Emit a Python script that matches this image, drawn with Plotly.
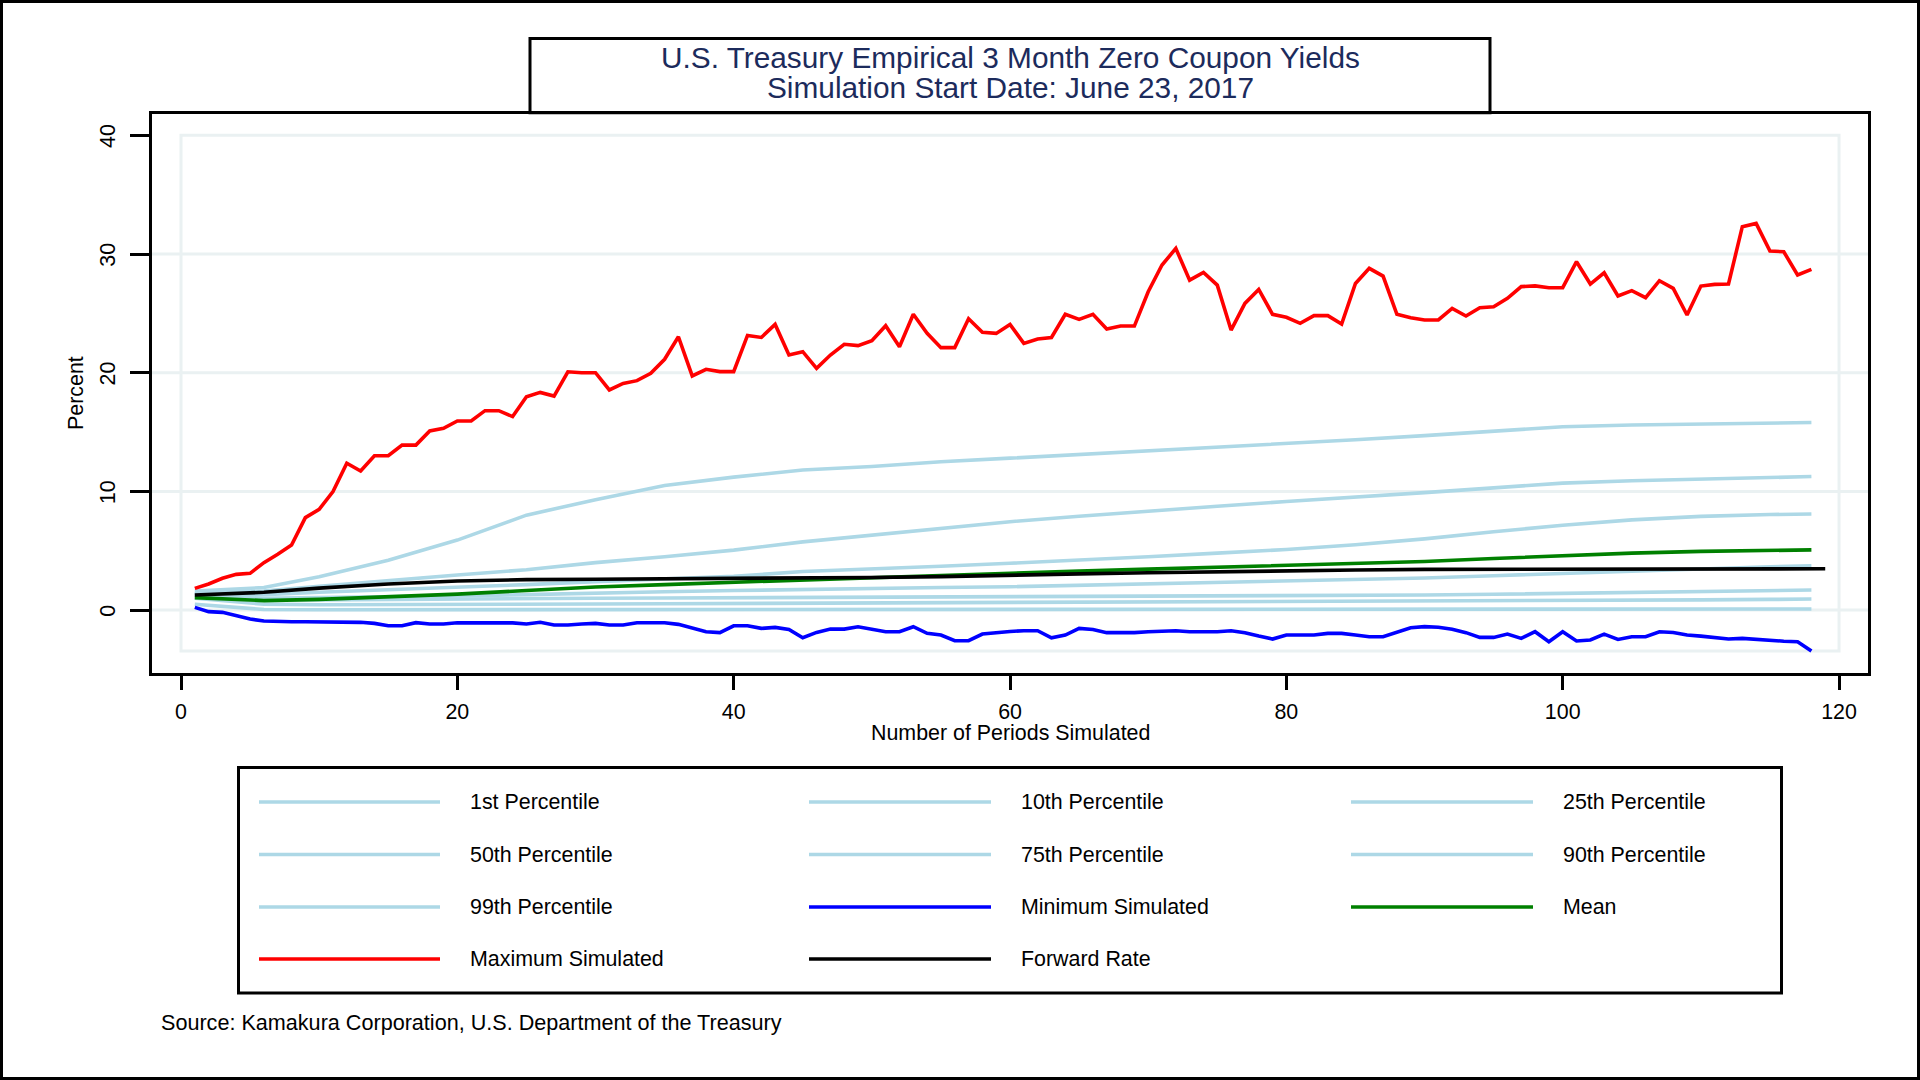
import plotly.graph_objects as go

# ---------------- data ----------------
periods = list(range(1, 119))

max_sim = [1.83, 2.2, 2.68, 3.01, 3.1, 4.0, 4.7, 5.48, 7.79, 8.49,
           9.98, 12.37, 11.72, 13.0, 13.0, 13.9, 13.9, 15.09, 15.31, 15.93,
           15.93, 16.8, 16.8, 16.3, 17.97, 18.34, 18.03, 20.08, 20.0, 20.0,
           18.55, 19.1, 19.33, 19.95, 21.13, 23.03, 19.73, 20.29, 20.09, 20.09,
           23.14, 22.97, 24.07, 21.49, 21.77, 20.37, 21.49, 22.39, 22.28, 22.7,
           23.96, 22.19, 24.92, 23.32, 22.11, 22.11, 24.55, 23.4, 23.31, 24.07,
           22.47, 22.84, 22.97, 24.92, 24.49, 24.92, 23.68, 23.93, 23.93, 26.82,
           29.07, 30.47, 27.8, 28.45, 27.38, 23.59, 25.84, 27.02, 24.92, 24.67,
           24.16, 24.81, 24.81, 24.1, 27.52, 28.79, 28.14, 24.92, 24.63, 24.44,
           24.44, 25.42, 24.78, 25.48, 25.56, 26.27, 27.25, 27.31, 27.16, 27.16,
           29.35, 27.47, 28.42, 26.46, 26.91, 26.32, 27.75, 27.11, 24.86, 27.3,
           27.44, 27.47, 32.3, 32.58, 30.25, 30.19, 28.23, 28.71]

min_sim = [0.23, -0.13, -0.19, -0.47, -0.75, -0.92, -0.98, -0.98, -0.98, -0.98,
           -0.98, -0.98, -1.03, -1.12, -1.32, -1.32, -1.06, -1.17, -1.17, -1.06,
           -1.06, -1.08, -1.08, -1.08, -1.17, -1.03, -1.26, -1.26, -1.17, -1.12,
           -1.26, -1.26, -1.06, -1.06, -1.06, -1.2, -1.54, -1.82, -1.9, -1.32,
           -1.32, -1.54, -1.46, -1.63, -2.33, -1.88, -1.6, -1.6, -1.4, -1.63,
           -1.82, -1.82, -1.4, -1.96, -2.1, -2.58, -2.58, -2.02, -1.88, -1.8,
           -1.74, -1.74, -2.33, -2.1, -1.54, -1.63, -1.9, -1.9, -1.9, -1.82,
           -1.8, -1.74, -1.82, -1.82, -1.82, -1.74, -1.9, -2.19, -2.44, -2.1,
           -2.1, -2.1, -1.96, -1.96, -2.1, -2.24, -2.24, -1.88, -1.48, -1.39,
           -1.45, -1.62, -1.9, -2.3, -2.3, -2.02, -2.38, -1.82, -2.66, -1.82,
           -2.6, -2.52, -2.02, -2.47, -2.24, -2.24, -1.82, -1.88, -2.1, -2.19,
           -2.3, -2.44, -2.38, -2.47, -2.6, -2.62, -2.66, -3.45]

pct_periods = [1, 3, 6, 10, 15, 20, 25, 30, 35, 40, 45, 50, 55, 60, 65, 70,
               75, 80, 85, 90, 95, 100, 105, 110, 115, 118]

p01 = [0.5, 0.3, 0.05, 0.03, 0.03, 0.04, 0.05, 0.06, 0.06, 0.06, 0.06, 0.06, 0.06,
       0.06, 0.06, 0.06, 0.06, 0.07, 0.07, 0.07, 0.08, 0.08, 0.08, 0.08, 0.09, 0.09]
p10 = [1.0, 0.8, 0.5, 0.45, 0.45, 0.48, 0.5, 0.52, 0.54, 0.56, 0.57, 0.59, 0.6,
       0.62, 0.63, 0.64, 0.65, 0.68, 0.72, 0.75, 0.78, 0.8, 0.83, 0.86, 0.9, 0.93]
p25 = [1.1, 1.0, 0.85, 0.85, 0.9, 0.92, 0.95, 1.0, 1.02, 1.04, 1.06, 1.08, 1.1,
       1.13, 1.15, 1.17, 1.19, 1.21, 1.24, 1.27, 1.33, 1.41, 1.48, 1.55, 1.63, 1.69]
p50 = [1.2, 1.15, 1.0, 1.05, 1.1, 1.2, 1.3, 1.45, 1.55, 1.65, 1.75, 1.82, 1.9,
       1.97, 2.08, 2.2, 2.32, 2.45, 2.57, 2.7, 2.9, 3.1, 3.3, 3.5, 3.65, 3.74]
p75 = [1.3, 1.3, 1.3, 1.5, 1.7, 1.95, 2.15, 2.4, 2.6, 2.85, 3.25, 3.45, 3.7,
       3.95, 4.2, 4.5, 4.8, 5.1, 5.5, 6.0, 6.6, 7.15, 7.6, 7.9, 8.05, 8.1]
p90 = [1.4, 1.5, 1.6, 2.0, 2.5, 2.95, 3.4, 4.0, 4.5, 5.05, 5.75, 6.3, 6.9,
       7.45, 7.9, 8.35, 8.75, 9.15, 9.5, 9.9, 10.3, 10.7, 10.9, 11.05, 11.2, 11.25]
p99 = [1.6, 1.7, 1.9, 2.8, 4.2, 5.9, 8.0, 9.3, 10.5, 11.2, 11.8, 12.1, 12.5,
       12.8, 13.1, 13.45, 13.75, 14.05, 14.35, 14.7, 15.1, 15.45, 15.6, 15.65, 15.75, 15.8]
mean_rate = [1.05, 0.95, 0.8, 0.9, 1.1, 1.35, 1.65, 1.95, 2.15, 2.35, 2.55, 2.75, 2.95,
             3.15, 3.3, 3.45, 3.6, 3.8, 3.95, 4.1, 4.35, 4.6, 4.8, 4.95, 5.05, 5.07]

fwd_periods = [1, 3, 6, 10, 15, 20, 25, 30, 35, 40, 45, 50, 55, 60, 65, 70,
               75, 80, 85, 90, 95, 100, 105, 110, 115, 119]
forward_rate = [1.27, 1.35, 1.5, 1.85, 2.2, 2.45, 2.57, 2.6, 2.62, 2.65, 2.68, 2.75, 2.82,
                2.9, 3.05, 3.15, 3.25, 3.32, 3.38, 3.43, 3.45, 3.47, 3.48, 3.48, 3.48, 3.48]

x_ticks = [0, 20, 40, 60, 80, 100, 120]
y_ticks = [0, 10, 20, 30, 40]
grid_values = [0, 10, 20, 30]

title_lines = ["U.S. Treasury Empirical 3 Month Zero Coupon Yields",
               "Simulation Start Date: June 23, 2017"]
x_title = "Number of Periods Simulated"
y_title = "Percent"
source_text = "Source: Kamakura Corporation, U.S. Department of the Treasury"

legend_names = ["1st Percentile", "10th Percentile", "25th Percentile",
                "50th Percentile", "75th Percentile", "90th Percentile",
                "99th Percentile", "Minimum Simulated", "Mean",
                "Maximum Simulated", "Forward Rate"]

# ---------------- styles / layout ----------------
LIGHTBLUE = "#ADD8E6"
COLORS = [LIGHTBLUE] * 7 + ["#0000FF", "#008000", "#FF0000", "#000000"]
GRID = "#EAF1F2"
FONT = "Liberation Sans, Arial, sans-serif"
FS = 21.4
TITLE_COLOR = "#1C2B5C"
LW = 3.6

FW, FH = 1920, 1080
L, R, T, B = 152, 52, 114, 407
PW, PH = FW - L - R, FH - T - B

X0PIX, XSCALE = 181.0, 13.817   # pixel of x=0, pixels per unit
Y0PIX, YSCALE = 610.1, 11.87    # pixel of y=0, pixels per unit

xrange = [(L - X0PIX) / XSCALE, (L + PW - X0PIX) / XSCALE]
yrange = [(Y0PIX - (T + PH)) / YSCALE, (Y0PIX - T) / YSCALE]


def px(X):
    return (X - L) / PW


def py(Y):
    return (T + PH - Y) / PH


series = [(pct_periods, p01), (pct_periods, p10), (pct_periods, p25),
          (pct_periods, p50), (pct_periods, p75), (pct_periods, p90),
          (pct_periods, p99), (periods, min_sim), (pct_periods, mean_rate),
          (periods, max_sim), (fwd_periods, forward_rate)]

fig = go.Figure()
for (xs, ys), name, col in zip(series, legend_names, COLORS):
    fig.add_trace(go.Scatter(x=xs, y=ys, mode="lines", name=name,
                             line=dict(color=col, width=LW), showlegend=False,
                             hoverinfo="skip"))

shapes = []
# gridlines spanning the whole frame
for v in grid_values:
    shapes.append(dict(type="line", xref="paper", yref="y", x0=0, x1=1, y0=v, y1=v,
                       line=dict(color=GRID, width=3), layer="below"))
# inner plot region rectangle
shapes.append(dict(type="rect", xref="x", yref="y", x0=x_ticks[0], x1=x_ticks[-1],
                   y0=min(min_sim), y1=y_ticks[-1],
                   line=dict(color=GRID, width=3), layer="below"))
# title box
shapes.append(dict(type="rect", xref="paper", yref="paper",
                   x0=px(530), x1=px(1490), y0=py(112.7), y1=py(38.5),
                   line=dict(color="black", width=3), fillcolor="rgba(0,0,0,0)"))
# legend box
shapes.append(dict(type="rect", xref="paper", yref="paper",
                   x0=px(238.5), x1=px(1781.5), y0=py(993), y1=py(767.5),
                   line=dict(color="black", width=3), fillcolor="rgba(0,0,0,0)"))
# outer border of the image
shapes.append(dict(type="rect", xref="paper", yref="paper",
                   x0=px(1.5), x1=px(FW - 1.5), y0=py(FH - 1.5), y1=py(1.5),
                   line=dict(color="black", width=3), fillcolor="rgba(0,0,0,0)"))

annotations = []
annotations.append(dict(text=title_lines[0], x=px(1010), y=py(57.5), xref="paper",
                        yref="paper", showarrow=False, xanchor="center", yanchor="middle",
                        font=dict(family=FONT, size=29.8, color=TITLE_COLOR)))
annotations.append(dict(text=title_lines[1], x=px(1010), y=py(88), xref="paper",
                        yref="paper", showarrow=False, xanchor="center", yanchor="middle",
                        font=dict(family=FONT, size=29.8, color=TITLE_COLOR)))
annotations.append(dict(text=x_title, x=px(1010.5), y=py(733), xref="paper",
                        yref="paper", showarrow=False, xanchor="center", yanchor="middle",
                        font=dict(family=FONT, size=FS, color="black")))
annotations.append(dict(text=y_title, x=px(76), y=py(393), xref="paper",
                        yref="paper", showarrow=False, xanchor="center", yanchor="middle",
                        textangle=-90, font=dict(family=FONT, size=FS, color="black")))
annotations.append(dict(text=source_text, x=px(159), y=py(1023), xref="paper",
                        yref="paper", showarrow=False, xanchor="left", yanchor="middle",
                        font=dict(family=FONT, size=21.6, color="black")))

# manual legend (3 columns)
col_line_x = [(259, 440), (809, 991), (1351, 1533)]
col_text_x = [468, 1019, 1561]
row_y = [802, 854.5, 907, 959]
for i, (name, col) in enumerate(zip(legend_names, COLORS)):
    r, c = divmod(i, 3)
    x0, x1 = col_line_x[c]
    shapes.append(dict(type="line", xref="paper", yref="paper",
                       x0=px(x0), x1=px(x1), y0=py(row_y[r]), y1=py(row_y[r]),
                       line=dict(color=col, width=3.6)))
    annotations.append(dict(text=name, x=px(col_text_x[c]), y=py(row_y[r]),
                            xref="paper", yref="paper", showarrow=False,
                            xanchor="left", yanchor="middle",
                            font=dict(family=FONT, size=FS, color="black")))

axis_common = dict(showline=True, mirror=True, linecolor="black", linewidth=3,
                   ticks="outside", tickcolor="black", tickwidth=2.5,
                   showgrid=False, zeroline=False,
                   tickfont=dict(family=FONT, size=FS, color="black"))

fig.update_layout(
    width=FW, height=FH,
    margin=dict(l=L, r=R, t=T, b=B, pad=0),
    paper_bgcolor="white", plot_bgcolor="white",
    showlegend=False,
    xaxis=dict(range=xrange, tickvals=x_ticks, ticklen=14, ticklabelstandoff=3,
               **axis_common),
    yaxis=dict(range=yrange, tickvals=y_ticks, ticklen=19, tickangle=-90,
               ticklabelstandoff=6, ticklabelshift=4, **axis_common),
    shapes=shapes,
    annotations=annotations,
)

fig.write_html("out.html")
